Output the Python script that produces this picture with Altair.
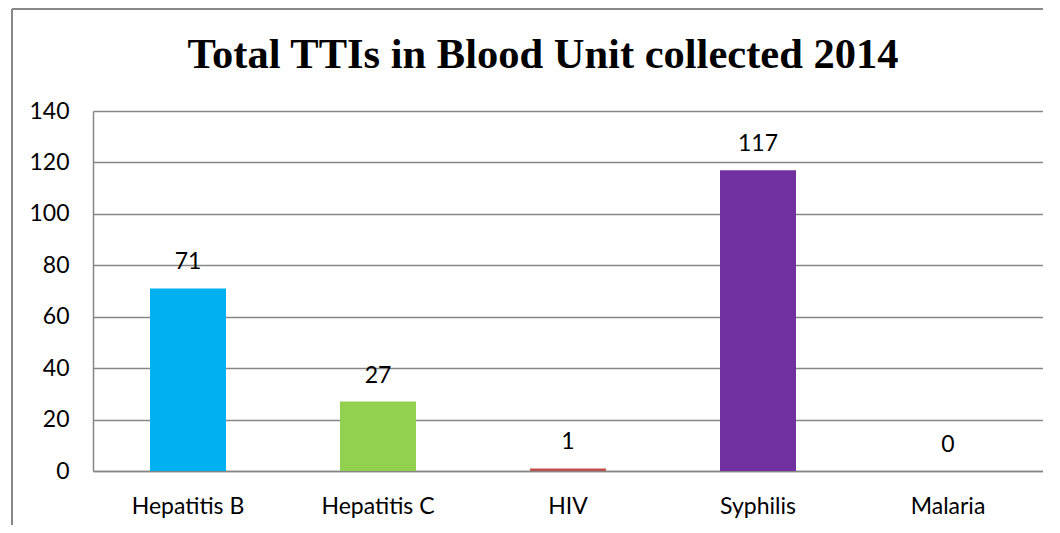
import altair as alt
import pandas as pd

categories = ["Hepatitis B", "Hepatitis C", "HIV", "Syphilis", "Malaria"]
values = [71, 27, 1, 117, 0]
colors = ["#00B0F0", "#92D050", "#C0504D", "#7030A0", "#F79646"]
title_text = "Total TTIs in Blood Unit collected 2014"

df = pd.DataFrame({"cat": categories, "val": values})
tdf = pd.DataFrame({"t": [title_text]})

FONT = "Lato"
FS = 23

x = alt.X("cat:N", sort=categories, title=None,
          scale=alt.Scale(paddingInner=0.6, paddingOuter=0.3),
          axis=alt.Axis(labelAngle=0, ticks=False, labelPadding=24, labelFontSize=FS,
                        labelFont=FONT, labelColor="#000000", domainColor="#868686",
                        domainWidth=1.5, grid=False))
y = alt.Y("val:Q", title=None,
          scale=alt.Scale(domain=[0, 140]),
          axis=alt.Axis(values=[0, 20, 40, 60, 80, 100, 120, 140], ticks=False,
                        labelPadding=24, labelFontSize=FS, labelFont=FONT,
                        labelColor="#000000", domainColor="#868686", domainWidth=1.5,
                        gridColor="#868686", gridWidth=1.5))

bars = alt.Chart(df).mark_bar().encode(
    x=x, y=y,
    color=alt.Color("cat:N", sort=categories,
                    scale=alt.Scale(domain=categories, range=colors), legend=None),
)

labels = alt.Chart(df).mark_text(baseline="alphabetic", dy=-19, fontSize=FS, font=FONT,
                                 color="#000000").encode(
    x=alt.X("cat:N", sort=categories), y="val:Q", text="val:Q")

title = alt.Chart(tdf).mark_text(baseline="alphabetic", align="center", fontSize=42.5,
                                 font="Liberation Serif", fontWeight="bold",
                                 color="#000000").encode(
    x=alt.value(450), y=alt.value(-43), text="t:N")

border_left = alt.Chart(df).mark_rule(color="#888888", strokeWidth=2).encode(
    x=alt.value(-81), y=alt.value(-102), y2=alt.value(500))
border_top = alt.Chart(df).mark_rule(color="#888888", strokeWidth=2).encode(
    x=alt.value(-81), x2=alt.value(1000), y=alt.value(-102))

chart = alt.layer(bars, labels, title, border_left, border_top).properties(
    width=950, height=360,
    padding={"left": 85, "top": 103, "right": 0, "bottom": 54},
    autosize=alt.AutoSizeParams(type="none"),
).configure_view(stroke=None)

chart.save("out.html", embed_options={"renderer": "svg", "actions": False})
